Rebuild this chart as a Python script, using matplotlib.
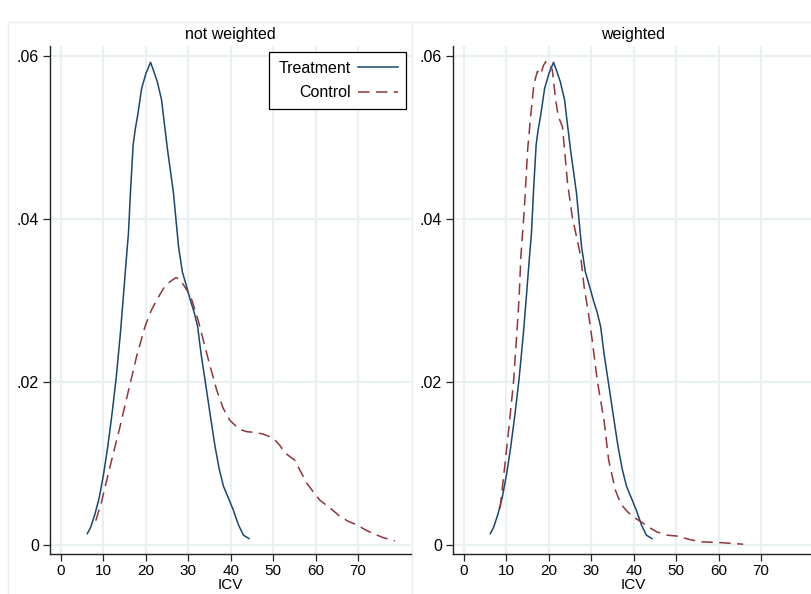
import matplotlib.pyplot as plt
from matplotlib.patches import Rectangle
from matplotlib.lines import Line2D

plt.rcParams['font.family'] = ['Liberation Sans', 'DejaVu Sans']

# Kernel density of ICV, treatment group (same in both panels)
treat_x = [6.2, 7.0, 8.0, 9.0, 10.0, 11.0, 12.0, 13.0, 14.0, 14.7, 15.3, 15.9, 16.4, 17.0,
           17.5, 18.1, 19.0, 20.0, 21.1, 21.8, 22.7, 23.7, 24.4, 25.1, 26.5, 27.7, 28.6,
           29.6, 30.5, 31.4, 32.2, 33.0, 34.3, 35.3, 36.3, 37.3, 38.3, 39.5, 40.6, 41.8,
           43.0, 44.3]
treat_y = [0.0014, 0.0022, 0.0038, 0.0058, 0.0086, 0.0120, 0.0160, 0.0205, 0.0260, 0.0305,
           0.0345, 0.0383, 0.0436, 0.0491, 0.0510, 0.0528, 0.0560, 0.0578, 0.0592, 0.0582,
           0.0568, 0.0546, 0.0515, 0.0485, 0.0432, 0.0366, 0.0335, 0.0317, 0.0300, 0.0285,
           0.0268, 0.0235, 0.0190, 0.0155, 0.0121, 0.0093, 0.0072, 0.0057, 0.0043, 0.0025,
           0.0012, 0.0008]

# Control group, not weighted
ctrl_x = [8.2, 9.5, 10.8, 12.3, 13.9, 15.1, 16.3, 17.8, 19.8, 21.2, 22.6, 24.2, 25.7, 27.1,
          28.0, 29.0, 30.0, 30.8, 32.2, 33.5, 35.0, 36.7, 38.2, 39.8, 41.2, 42.6, 43.8, 45.8,
          47.7, 49.1, 50.4, 51.6, 52.8, 55.1, 56.5, 57.9, 59.5, 61.0, 63.5, 65.8, 67.7, 69.7,
          71.6, 73.6, 76.0, 78.7]
ctrl_y = [0.0030, 0.0052, 0.0080, 0.0112, 0.0145, 0.0172, 0.0198, 0.0231, 0.0268, 0.0287,
          0.0301, 0.0315, 0.0323, 0.0328, 0.0326, 0.0318, 0.0310, 0.0301, 0.0278, 0.0252,
          0.0222, 0.0190, 0.0168, 0.0153, 0.0146, 0.0141, 0.0139, 0.0138, 0.0136, 0.0133,
          0.0129, 0.0122, 0.0113, 0.0104, 0.0090, 0.0076, 0.0065, 0.0055, 0.0045, 0.0035,
          0.0029, 0.0025, 0.0019, 0.0014, 0.0009, 0.0005]

# Control group, weighted
ctrlw_x = [8.5, 9.5, 10.6, 11.7, 12.5, 13.0, 13.4, 14.2, 15.0, 15.7, 16.5, 17.3, 18.1,
           18.7, 19.3, 20.0, 20.8, 21.6, 22.2, 23.2, 24.4, 25.5, 27.5, 28.3, 29.3, 30.2,
           31.4, 33.0, 34.1, 35.7, 37.0, 38.5, 40.0, 41.6, 43.5, 45.5, 48.0, 50.2, 53.0,
           55.7, 60.4, 65.8]
ctrlw_y = [0.0045, 0.0092, 0.0145, 0.0202, 0.0264, 0.0305, 0.0354, 0.0411, 0.0485, 0.0526,
           0.0566, 0.0581, 0.0577, 0.0588, 0.0593, 0.0591, 0.0583, 0.0546, 0.0526, 0.0513,
           0.0444, 0.0403, 0.0354, 0.0317, 0.0285, 0.0252, 0.0202, 0.0153, 0.0104, 0.0067,
           0.0050, 0.0041, 0.0034, 0.0029, 0.0022, 0.0016, 0.0012, 0.0011, 0.0007, 0.0004,
           0.0003, 0.0001]

panel_titles = ['not weighted', 'weighted']
x_ticks = [0, 10, 20, 30, 40, 50, 60, 70]
y_ticks = [0, 0.02, 0.04, 0.06]
y_ticklabels = ['0', '.02', '.04', '.06']

navy = '#1a476f'
maroon = '#90353b'
grid_col = '#eaf1f3'
dash = (7.5, 4.2)

fig = plt.figure(figsize=(8.12, 5.94), dpi=100)

# faint panel regions
fig.patches.append(Rectangle((8 / 812, -0.1), 404 / 812, 1.1 - 22 / 594, transform=fig.transFigure,
                             facecolor='white', edgecolor='#eeeeee', lw=1.0, zorder=-1))
fig.patches.append(Rectangle((412 / 812, -0.1), 1.0, 1.1 - 22 / 594, transform=fig.transFigure,
                             facecolor='white', edgecolor='#eeeeee', lw=1.0, zorder=-1))

ax1 = fig.add_axes([50 / 812, 40 / 594, 361 / 812, 508 / 594])
ax2 = fig.add_axes([453 / 812, 40 / 594, 361 / 812, 508 / 594])

ax1.plot(treat_x, treat_y, color=navy, lw=1.1, label='Treatment')
ax1.plot(ctrl_x, ctrl_y, color=maroon, lw=1.1, dashes=dash, label='Control')
ax2.plot(treat_x, treat_y, color=navy, lw=1.1)
ax2.plot(ctrlw_x, ctrlw_y, color=maroon, lw=1.1, dashes=dash)

for ax, title in zip([ax1, ax2], panel_titles):
    ax.set_xlim(-2.6, 82.5)
    ax.set_ylim(-0.0011, 0.0612)
    ax.set_xticks(x_ticks)
    ax.set_yticks(y_ticks)
    ax.set_yticklabels(y_ticklabels)
    ax.grid(True, color=grid_col, lw=1.6)
    ax.set_axisbelow(True)
    for side in ['top', 'right']:
        ax.spines[side].set_visible(False)
    for side in ['left', 'bottom']:
        ax.spines[side].set_color('#222222')
        ax.spines[side].set_linewidth(1.0)
    ax.tick_params(direction='out', length=5, width=0.9, color='#222222',
                   labelsize=11.5, pad=3)
    ax.tick_params(axis='x', labelsize=11, pad=2.5)
    ax.set_title(title, fontsize=11.5, pad=5)
    ax.set_xlabel('ICV', fontsize=11, labelpad=0)
    ax.patch.set_alpha(0)

leg = ax1.legend(handles=[Line2D([], [], color=navy, lw=1.1),
                          Line2D([], [], color=maroon, lw=1.1, dashes=dash)],
                 labels=['Treatment', 'Control'], markerfirst=False,
                 loc='upper right', bbox_to_anchor=(0.987, 0.988), borderaxespad=0,
                 fontsize=11.5, fancybox=False, framealpha=1, edgecolor='black',
                 handlelength=2.5, handletextpad=0.45, borderpad=0.55, labelspacing=0.6)
leg.get_frame().set_linewidth(0.9)

fig.savefig('out.png', dpi=100)
